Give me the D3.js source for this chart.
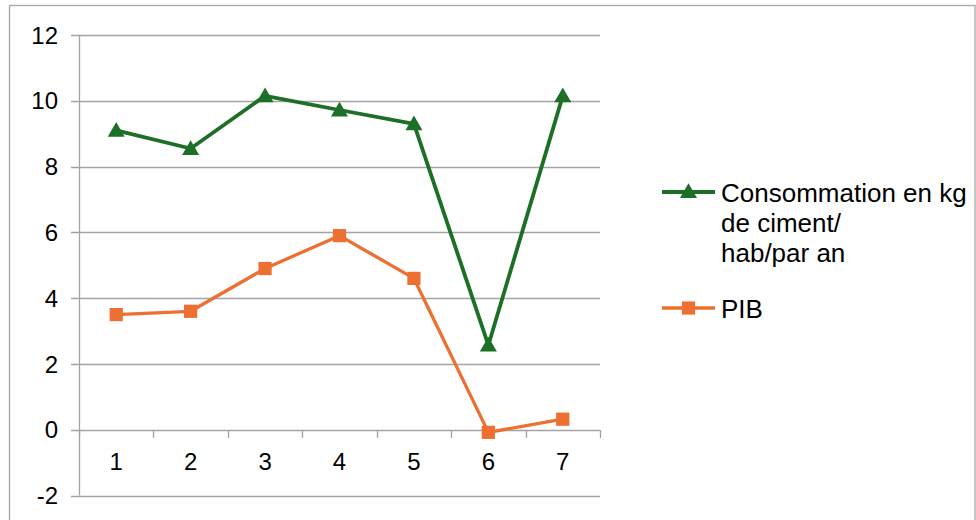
<!DOCTYPE html>
<html>
<head>
<meta charset="utf-8">
<script src="https://cdn.jsdelivr.net/npm/d3@7"></script>
<style>
  html, body { margin: 0; padding: 0; background: #fff; }
  svg { display: block; font-family: "Liberation Sans", Arial, sans-serif; }
</style>
</head>
<body>
<svg id="chart" width="976" height="520"></svg>
<script>
// Years 1..7 on the category axis
const categories = ["1", "2", "3", "4", "5", "6", "7"];
// Cement consumption (kg per inhabitant per year)
const consommation = [9.1, 8.55, 10.15, 9.72, 9.3, 2.57, 10.15];
// GDP growth
const pib = [3.5, 3.6, 4.9, 5.9, 4.6, -0.08, 0.32];
const yTicks = [-2, 0, 2, 4, 6, 8, 10, 12];
const seriesNames = ["Consommation en kg de ciment/ hab/par an", "PIB"];
const legendLines = [["Consommation en kg", "de ciment/", "hab/par an"], ["PIB"]];

const green = "#1c6f26";
const orange = "#ed7032";
const gridColor = "#a3a3a3";

const svg = d3.select("#chart");

// outer chart frame
svg.append("rect")
  .attr("x", 9.5).attr("y", 5.5)
  .attr("width", 965.5).attr("height", 530)
  .attr("fill", "none").attr("stroke", "#a6a6a6").attr("stroke-width", 1.3);

const plot = { left: 79, right: 600, top: 35, bottom: 495.5 };

const x = d3.scaleBand().domain(categories).range([plot.left, plot.right]);
const y = d3.scaleLinear().domain([-2, 12]).range([plot.bottom, plot.top]);

// horizontal gridlines with small left ticks
const grid = svg.append("g");
grid.selectAll("line").data(yTicks).join("line")
  .attr("x1", plot.left - 8).attr("x2", plot.right)
  .attr("y1", d => Math.round(y(d)) + 0.5).attr("y2", d => Math.round(y(d)) + 0.5)
  .attr("stroke", gridColor).attr("stroke-width", 1.3);

// vertical axis line
svg.append("line")
  .attr("x1", plot.left + 0.5).attr("x2", plot.left + 0.5)
  .attr("y1", plot.top).attr("y2", plot.bottom)
  .attr("stroke", gridColor).attr("stroke-width", 1.3);

// y labels
svg.append("g").selectAll("text").data(yTicks).join("text")
  .attr("x", 58).attr("y", d => y(d))
  .attr("dy", "0.36em")
  .attr("text-anchor", "end")
  .attr("font-size", 24).attr("fill", "#000")
  .text(d => d);

// category boundary ticks on the zero line
const bounds = categories.map(c => x(c)).concat([plot.right]);
svg.append("g").selectAll("line").data(bounds).join("line")
  .attr("x1", d => Math.round(d) + 0.5).attr("x2", d => Math.round(d) + 0.5)
  .attr("y1", Math.round(y(0))).attr("y2", Math.round(y(0)) + 8)
  .attr("stroke", gridColor).attr("stroke-width", 1.3);

// category labels
svg.append("g").selectAll("text").data(categories).join("text")
  .attr("x", d => x(d) + x.bandwidth() / 2)
  .attr("y", 470)
  .attr("text-anchor", "middle")
  .attr("font-size", 24).attr("fill", "#000")
  .text(d => d);

const cx = (d, i) => x(categories[i]) + x.bandwidth() / 2;
const line = d3.line().x(cx).y(d => y(d));

const triangle = d3.symbol().type(d3.symbolTriangle).size(125);
const square = d3.symbol().type(d3.symbolSquare).size(175);

// PIB series
svg.append("path").datum(pib)
  .attr("d", line).attr("fill", "none")
  .attr("stroke", orange).attr("stroke-width", 3.3).attr("stroke-linejoin", "round");
svg.append("g").selectAll("path").data(pib).join("path")
  .attr("d", square)
  .attr("transform", (d, i) => `translate(${cx(d, i)},${y(d)})`)
  .attr("fill", orange);

// cement consumption series
svg.append("path").datum(consommation)
  .attr("d", line).attr("fill", "none")
  .attr("stroke", green).attr("stroke-width", 3.8).attr("stroke-linejoin", "round");
svg.append("g").selectAll("path").data(consommation).join("path")
  .attr("d", triangle)
  .attr("transform", (d, i) => `translate(${cx(d, i)},${y(d) + 1.5})`)
  .attr("fill", green);

// legend
const legend = svg.append("g");
const legendItems = [
  { color: green, marker: triangle, width: 3.8, y: 192, lines: legendLines[0] },
  { color: orange, marker: square, width: 3.3, y: 308, lines: legendLines[1] }
];
legendItems.forEach(item => {
  legend.append("line")
    .attr("x1", 662).attr("x2", 715)
    .attr("y1", item.y).attr("y2", item.y)
    .attr("stroke", item.color).attr("stroke-width", item.width);
  legend.append("path")
    .attr("d", item.marker)
    .attr("transform", `translate(688.5,${item.y + (item.marker === triangle ? 1 : 0)})`)
    .attr("fill", item.color);
  const t = legend.append("text")
    .attr("x", 721).attr("y", item.y + 10)
    .attr("font-size", 26).attr("fill", "#000");
  item.lines.forEach((s, k) => {
    t.append("tspan").attr("x", 721).attr("dy", k === 0 ? 0 : 30).text(s);
  });
});
</script>
</body>
</html>
